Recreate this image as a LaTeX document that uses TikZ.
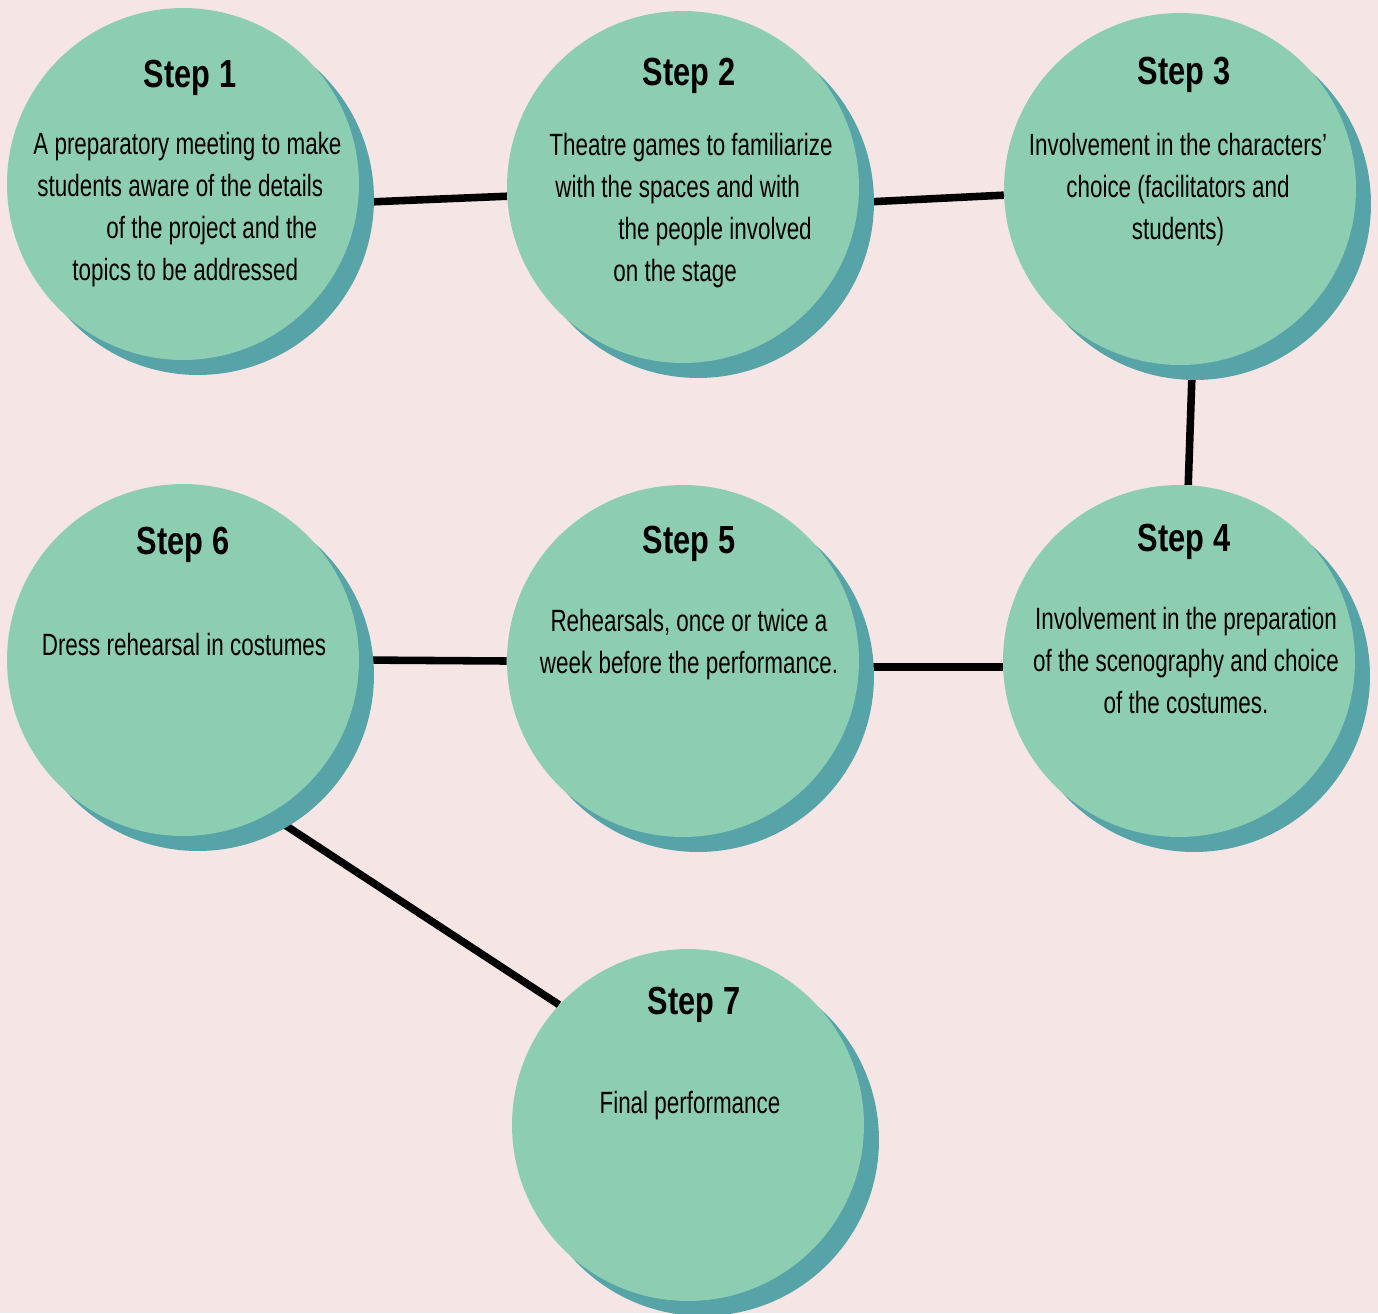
\documentclass[tikz,border=0pt]{standalone}
\usepackage{fontspec}
\setmainfont{Liberation Sans}
\newfontfamily\stepfont{Liberation Sans}[FakeStretch=0.785]
\newfontfamily\notefont{Liberation Sans}[FakeStretch=0.73]
\usetikzlibrary{shadows,backgrounds}
\definecolor{bgpink}{HTML}{F5E5E5}
\definecolor{discgreen}{HTML}{8DCDB1}
\definecolor{discteal}{HTML}{56A4A7}
\newlength\pxu
\setlength\pxu{0.02cm}
\tikzset{
  stepdisc/.style={circle, fill=discgreen, minimum size=7.04cm, inner sep=0pt,
    drop shadow={shadow xshift=0.3cm, shadow yshift=-0.3cm, fill=discteal, opacity=1}},
  steptitle/.style={anchor=base, inner sep=0pt,
    font=\stepfont\bfseries\fontsize{22.3}{26}\selectfont},
  stepnote/.style={inner sep=0pt, font=\notefont\fontsize{17.5}{23.9}\selectfont},
  link/.style={line width=4.3pt}
}
\begin{document}
\begin{tikzpicture}[x=0.02cm, y=-0.02cm]
  \useasboundingbox (0,0) rectangle (1378,1313);
  % the seven discs
  \foreach \n/\x/\y in {1/183/184, 2/683/187, 3/1180/189, 4/1179/661,
                        5/683/661, 6/183/660, 7/688/1125}
    \node[stepdisc] (s\n) at (\x,\y) {};
  % titles
  \node[steptitle] (t1) at (190,87) {Step 1};
  \node[steptitle] (t2) at (689,85) {Step 2};
  \node[steptitle] (t3) at (1184,84) {Step 3};
  \node[steptitle] (t4) at (1184,551) {Step 4};
  \node[steptitle] (t5) at (689,553) {Step 5};
  \node[steptitle] (t6) at (183,554) {Step 6};
  \node[steptitle] (t7) at (694,1014) {Step 7};
  % texts (base = last line)
  \node[stepnote, anchor=base west, align=left] (n1) at (33,280)
    {A preparatory meeting to make\\
     \hspace*{4\pxu}students aware of the details\\
     \hspace*{73\pxu}of the project and the\\
     \hspace*{39\pxu}topics to be addressed};
  \node[stepnote, anchor=base west, align=left] (n2) at (549,281)
    {Theatre games to familiarize\\
     \hspace*{6\pxu}with the spaces and with\\
     \hspace*{69\pxu}the people involved\\
     \hspace*{64\pxu}on the stage};
  \node[stepnote, anchor=base, align=center] (n3) at (1178,239)
    {Involvement in the characters’\\ choice (facilitators and\\ students)};
  \node[stepnote, anchor=base, align=center] (n4) at (1186,713)
    {Involvement in the preparation\\ of the scenography and choice\\ of the costumes.};
  \node[stepnote, anchor=base, align=center] (n5) at (689,673)
    {Rehearsals, once or twice a\\ week before the performance.};
  \node[stepnote, anchor=base] (n6) at (184,655) {Dress rehearsal in costumes};
  \node[stepnote, anchor=base] (n7) at (690,1113) {Final performance};
  % links behind the discs
  \begin{pgfonlayer}{background}
    \fill[bgpink] (0,0) rectangle (1378,1313);
    \draw[link] (s1.-6) -- (s2.183);
    \draw[link] (s2.-5) -- (s3.182);
    \draw[link] (s3.-86) -- (s4.87);
    \draw[link] (s4.182) -- (s5.-2);
    \draw[link] (s5.180.5) -- (s6.0.3);
    \draw[link] (s6.-61.5) -- (s7.137);
  \end{pgfonlayer}
\end{tikzpicture}
\end{document}
